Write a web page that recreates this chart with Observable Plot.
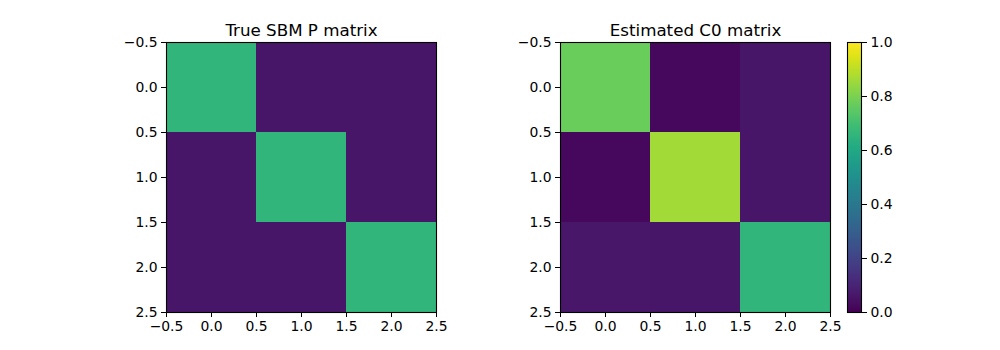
<!DOCTYPE html>
<html><head><meta charset="utf-8">
<script src="https://cdn.jsdelivr.net/npm/d3@7"></script>
<script src="https://cdn.jsdelivr.net/npm/@observablehq/plot@0.6"></script>
<style>
body{margin:0;background:#fff}
#c{position:relative;width:1000px;height:350px}
#c svg{position:absolute;left:0;top:0;background:transparent;overflow:visible}
</style>
</head><body><div id="c"></div>
<script>
const rows = [0, 1, 2];
const cols = [0, 1, 2];
const trueP = [
  [0.655, 0.055, 0.055],
  [0.055, 0.655, 0.055],
  [0.055, 0.055, 0.655]
];
const estC0 = [
  [0.77, 0.02, 0.055],
  [0.02, 0.86, 0.055],
  [0.06, 0.057, 0.655]
];
const axisTicks = [-0.5, 0, 0.5, 1, 1.5, 2, 2.5];
const cbarTicks = [0, 0.2, 0.4, 0.6, 0.8, 1.0];
const titles = ["True SBM P matrix", "Estimated C0 matrix"];

const fmt = d3.format(".1f");
const font = "DejaVu Sans, sans-serif";
const c = document.getElementById("c");

function heat(matrix, title, left) {
  const data = rows.flatMap((r, i) => cols.map((cc, j) => ({row: r, col: cc, value: matrix[i][j]})));
  return Plot.plot({
    width: 1000, height: 350,
    marginLeft: left, marginRight: 1000 - left - 270, marginTop: 42, marginBottom: 38,
    style: {fontFamily: font, fontSize: "13.9px", color: "black", background: "transparent", overflow: "visible"},
    x: {domain: [-0.5, 2.5]},
    y: {domain: [-0.5, 2.5], reverse: true},
    color: {type: "linear", scheme: "viridis", domain: [0, 1]},
    marks: [
      Plot.rect(data, {x1: d => d.col - 0.5, x2: d => d.col + 0.5, y1: d => d.row - 0.5, y2: d => d.row + 0.5, fill: "value"}),
      Plot.frame({stroke: "black", strokeWidth: 1.1}),
      Plot.axisX(axisTicks, {tickFormat: fmt, tickSize: 5, tickPadding: 4, label: null, stroke: "black", fill: "black", fontSize: 13.9}),
      Plot.axisY(axisTicks, {tickFormat: fmt, tickSize: 5, tickPadding: 4, label: null, stroke: "black", fill: "black", fontSize: 13.9}),
      Plot.text([title], {frameAnchor: "top", lineAnchor: "bottom", dy: -7, text: d => d, fontSize: 16.7, fill: "black"})
    ]
  });
}

c.appendChild(heat(trueP, titles[0], 166));
c.appendChild(heat(estC0, titles[1], 560));

const cbar = Plot.plot({
  width: 1000, height: 350,
  marginLeft: 847, marginRight: 1000 - 861, marginTop: 42, marginBottom: 38,
  style: {fontFamily: font, fontSize: "13.9px", color: "black", background: "transparent", overflow: "visible"},
  x: {domain: [0, 1], axis: null},
  y: {domain: [0, 1]},
  color: {type: "linear", scheme: "viridis", domain: [0, 1]},
  marks: [
    Plot.raster({fill: (x, y) => y, x1: 0, x2: 1, y1: 0, y2: 1, pixelSize: 1, imageRendering: "pixelated"}),
    Plot.frame({stroke: "black", strokeWidth: 1.1}),
    Plot.axisY(cbarTicks, {anchor: "right", tickFormat: fmt, tickSize: 5, tickPadding: 4, label: null, stroke: "black", fill: "black", fontSize: 13.9})
  ]
});
c.appendChild(cbar);
</script>
</body></html>
